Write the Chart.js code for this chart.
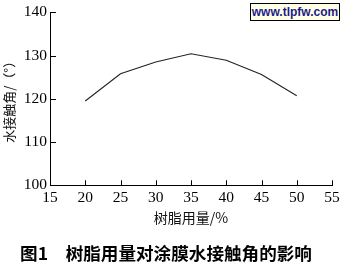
<!DOCTYPE html>
<html>
<head>
<meta charset="utf-8">
<script src="https://cdn.jsdelivr.net/npm/chart.js@4/dist/chart.umd.min.js"></script>
<style>
  html, body { margin: 0; padding: 0; background: #fff; }
  #wrap { position: relative; width: 344px; height: 267px; }
  #wm {
    position: absolute; left: 250px; top: 3px; width: 88px; height: 16px;
    border: 1px solid #000; background: #ffffe6;
    font: bold 12px "Liberation Sans", Arial, sans-serif; color: #1c1c8c;
    text-align: center; line-height: 16px;
  }
</style>
</head>
<body>
<div id="wrap">
  <canvas id="c" width="344" height="267"></canvas>
  <div id="wm">www.tlpfw.com</div>
</div>
<script>
const resinPct = [20, 25, 30, 35, 40, 45, 50];
const contactAngle = [119.5, 125.8, 128.5, 130.4, 128.9, 125.6, 120.7];
const xTitle = '树脂用量/%';
const yTitle = '水接触角/（°）';
const caption = '图1　树脂用量对涂膜水接触角的影响';

const inwardTicks = {
  id: 'inwardTicks',
  afterDraw(chart) {
    const ctx = chart.ctx;
    const xs = chart.scales.x, ys = chart.scales.y;
    ctx.save();
    ctx.strokeStyle = '#000';
    ctx.lineWidth = 1;
    ctx.beginPath();
    xs.ticks.forEach(t => {
      const px = Math.round(xs.getPixelForValue(t.value)) + 0.5;
      ctx.moveTo(px, xs.top);
      ctx.lineTo(px, xs.top - 5);
    });
    ys.ticks.forEach(t => {
      const py = Math.round(ys.getPixelForValue(t.value)) + 0.5;
      ctx.moveTo(ys.right, py);
      ctx.lineTo(ys.right + 6, py);
    });
    ctx.stroke();
    ctx.restore();
  }
};

new Chart(document.getElementById('c'), {
  type: 'line',
  data: {
    datasets: [{
      data: resinPct.map((x, i) => ({ x: x, y: contactAngle[i] })),
      borderColor: '#222',
      borderWidth: 1.1,
      pointRadius: 0,
      tension: 0,
      fill: false
    }]
  },
  options: {
    responsive: false,
    animation: false,
    devicePixelRatio: 1,
    layout: { padding: { left: 0, top: 10, right: 12, bottom: 0 } },
    plugins: {
      legend: { display: false },
      tooltip: { enabled: false },
      title: {
        display: true,
        position: 'bottom',
        text: caption,
        color: '#000',
        font: { family: '"Noto Sans CJK SC"', size: 17.6, weight: 'bold', lineHeight: 1.2 },
        padding: { top: 0, bottom: 3 }
      }
    },
    scales: {
      x: {
        type: 'linear',
        min: 15, max: 55,
        grid: { display: false, drawTicks: false },
        border: { display: true, color: '#000', width: 1 },
        ticks: {
          stepSize: 5, padding: 3, color: '#000', maxRotation: 0,
          font: { family: '"Liberation Serif"', size: 15.5 }
        },
        title: {
          display: true, text: xTitle, color: '#111',
          font: { family: '"Noto Sans CJK SC"', size: 14, lineHeight: 1.2 },
          padding: { top: 0, bottom: 17 }
        },
        afterFit(scale) { scale.height = 57.6; }
      },
      y: {
        type: 'linear',
        min: 100, max: 140,
        grid: { display: false, drawTicks: false },
        border: { display: true, color: '#000', width: 1 },
        ticks: {
          stepSize: 10, padding: 3, color: '#000',
          font: { family: '"Liberation Serif"', size: 15.5 }
        },
        title: {
          display: true, text: yTitle, color: '#111',
          font: { family: '"Noto Sans CJK SC"', size: 13, lineHeight: 1.2 },
          padding: { top: 1, bottom: 0 }
        },
        afterFit(scale) { scale.width = 50; }
      }
    }
  },
  plugins: [inwardTicks]
});
</script>
</body>
</html>
